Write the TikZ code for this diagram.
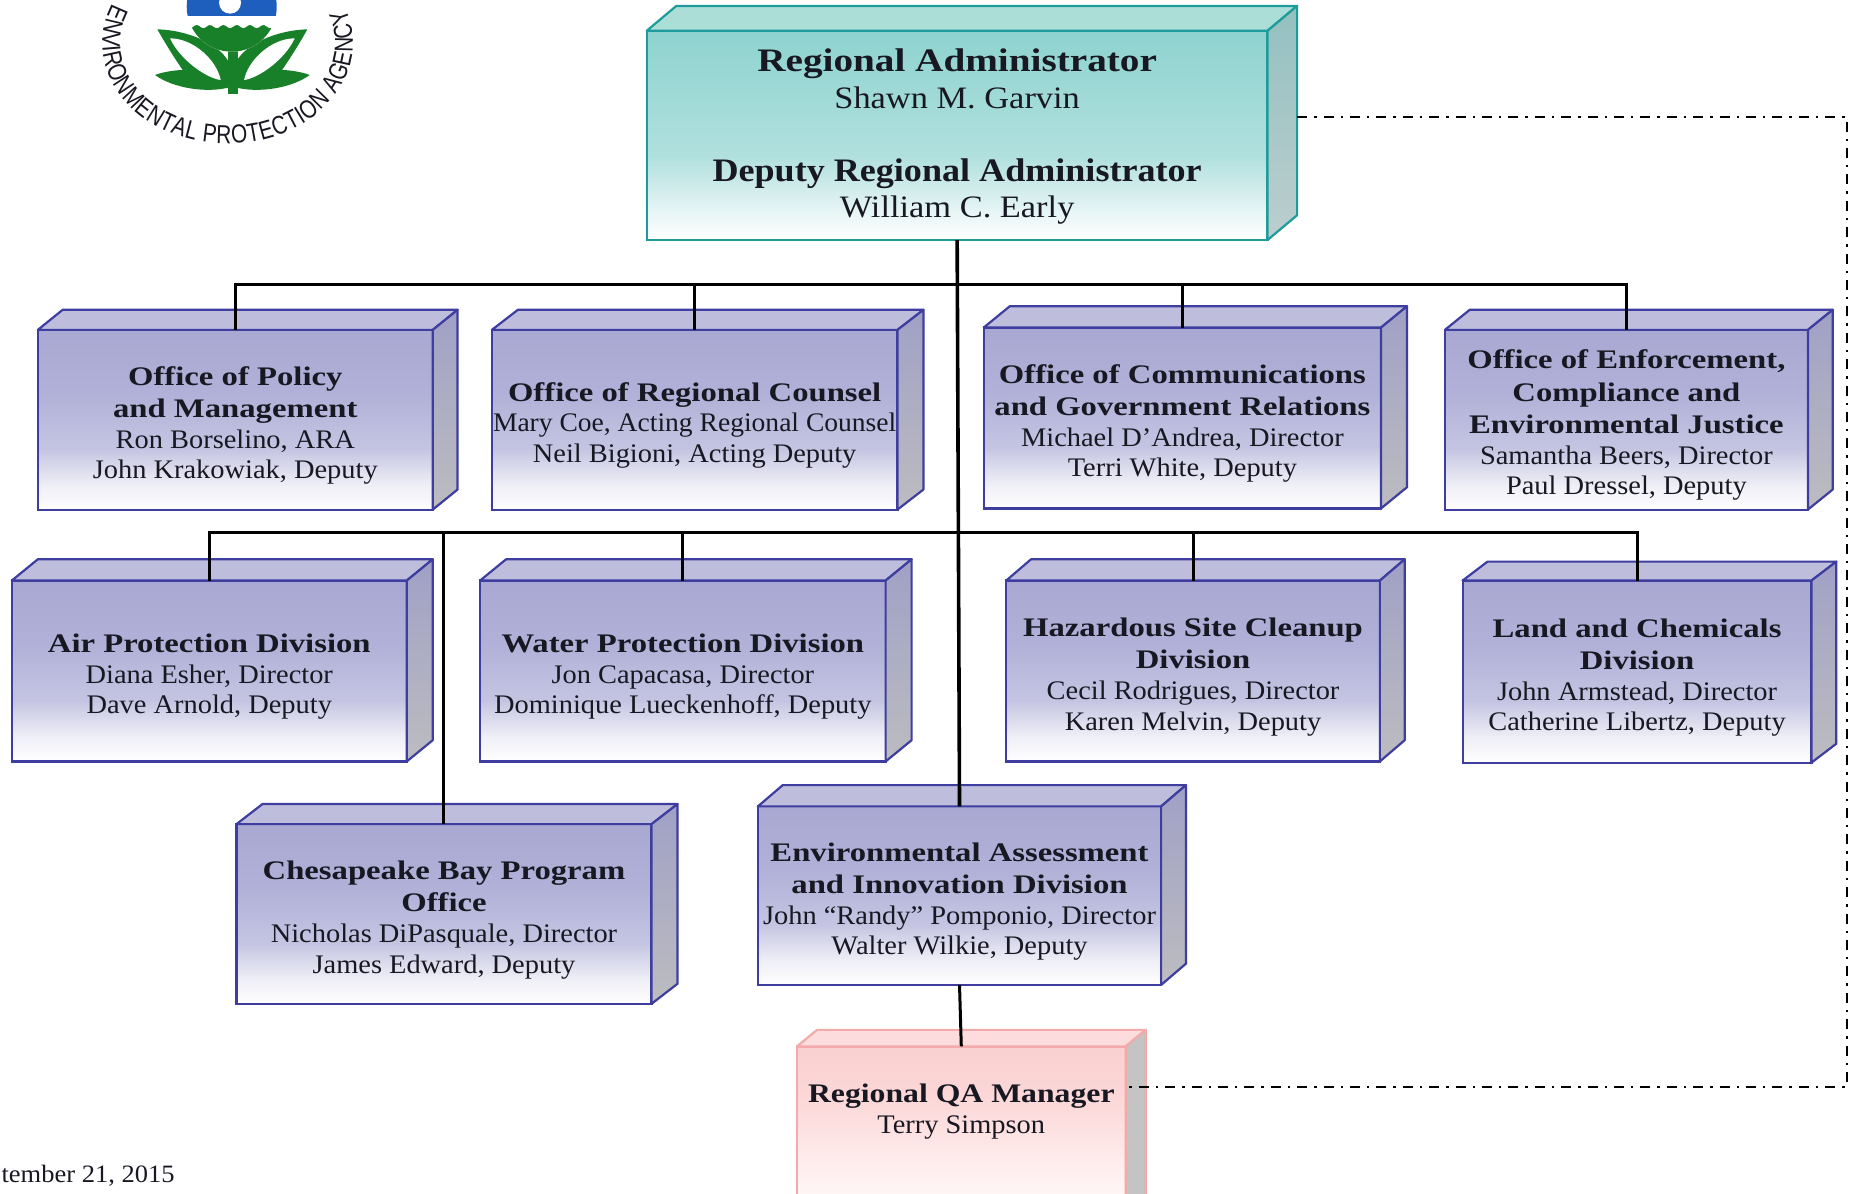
\documentclass[tikz,border=0pt]{standalone}
\usepackage{graphicx}
\usepackage{fontspec}
\setmainfont{Liberation Serif}[FakeStretch=1.06,BoldFeatures={FakeStretch=1.22}]
\newfontfamily\logofont{Liberation Sans}[FakeStretch=0.8]
\usetikzlibrary{decorations.text}
\definecolor{navyline}{RGB}{62,62,160}
\definecolor{tealline}{RGB}{30,155,155}
\definecolor{pinkline}{RGB}{242,170,170}
\definecolor{inktext}{RGB}{24,24,34}
\definecolor{epagreen}{RGB}{24,128,40}
\definecolor{epablue}{RGB}{30,95,190}
\definecolor{bluea}{RGB}{238,238,246}
\definecolor{blueb}{RGB}{196,196,226}
\definecolor{bluec}{RGB}{176,176,216}
\definecolor{blued}{RGB}{168,168,210}
\definecolor{teala}{RGB}{226,243,243}
\definecolor{tealb}{RGB}{176,224,222}
\definecolor{tealc}{RGB}{142,211,207}
\definecolor{pinka}{RGB}{255,240,240}
\definecolor{pinkb}{RGB}{252,216,216}
\definecolor{pinkc}{RGB}{250,208,208}
\pgfdeclareverticalshading{bluegrad}{100bp}{color(0bp)=(white); color(25bp)=(white); color(32bp)=(bluea); color(42bp)=(blueb); color(58bp)=(bluec); color(75bp)=(blued); color(100bp)=(blued)}
\pgfdeclareverticalshading{tealgrad}{100bp}{color(0bp)=(white); color(25bp)=(white); color(33bp)=(teala); color(45bp)=(tealb); color(75bp)=(tealc); color(100bp)=(tealc)}
\pgfdeclareverticalshading{pinkgrad}{100bp}{color(0bp)=(white); color(25bp)=(white); color(40bp)=(pinka); color(60bp)=(pinkb); color(75bp)=(pinkc); color(100bp)=(pinkc)}
\tikzset{
  face/.style={rectangle,inner sep=0pt,outer sep=0pt,align=center,text=inktext,line width=1.1pt,
    font=\fontsize{13.4}{15.3}\selectfont},
  bluefront/.style={face,draw=navyline,shading=bluegrad},
  bluetop/.style={draw=navyline,line width=1.1pt,line join=round,fill={rgb,255:red,190;green,190;blue,220}},
  blueside/.style={draw=navyline,line width=1.1pt,line join=round,top color={rgb,255:red,160;green,160;blue,198},bottom color={rgb,255:red,188;green,188;blue,192}},
  tealfront/.style={face,draw=tealline,shading=tealgrad,font=\fontsize{15.6}{18.3}\selectfont},
  tealtop/.style={draw=tealline,line width=1.1pt,line join=round,fill={rgb,255:red,172;green,222;blue,216}},
  tealside/.style={draw=tealline,line width=1.1pt,line join=round,top color={rgb,255:red,148;green,192;blue,192},bottom color={rgb,255:red,188;green,206;blue,206}},
  pinkfront/.style={face,draw=pinkline,shading=pinkgrad},
  pinktop/.style={draw=pinkline,line width=1.1pt,line join=round,fill={rgb,255:red,252;green,220;blue,220}},
  pinkside/.style={draw=pinkline,line width=1.1pt,line join=round,fill={rgb,255:red,196;green,196;blue,196}},
  link/.style={draw=black,line width=1.5pt},
  trunk/.style={draw=black,line width=1.8pt},
  dotlink/.style={draw=black,line width=1pt,dash pattern=on 5pt off 3.5pt on 1.2pt off 3.5pt},
  datetext/.style={inner sep=0pt,anchor=west,text=inktext,font=\fontsize{12.5}{14}\selectfont}
}
\newcommand\bluelift{\rule{0pt}{15.1pt}}
\newcommand\teallift{\rule{0pt}{12.6pt}}
\newcommand\pinklift{\rule{0pt}{10.6pt}}
% #1 kind, #2 name, #3 L, #4 R, #5 T, #6 B, #7 back right, #8 back top, #9 text
\newcommand\orgbox[9]{%
  \node[#1front,minimum width={(#4-#3)*0.5912pt},minimum height={(#6-#5)*0.5912pt}] (#2) at ({(#3+#4)/2},{(#5+#6)/2}) {\csname #1lift\endcsname#9};
  \draw[#1top] (#2.north west) -- ({#3+#7-#4},#8) -- (#7,#8) -- (#2.north east) -- cycle;
  \draw[#1side] (#2.north east) -- (#7,#8) -- (#7,{#6-#5+#8}) -- (#2.south east) -- cycle;
}
\newcommand\bigtitle[2]{\scalebox{#1}[1]{\bfseries\fontsize{16.4}{18.3}\selectfont #2}}
\newcommand\bigname[1]{\scalebox{1.04}[1]{#1}}
\newcommand\leafshape{%
  \fill[epagreen] (472,88) .. controls (560,90) and (660,130) .. (688,190) -- (688,262)
     .. controls (620,280) and (520,265) .. (465,225) .. controls (490,215) and (530,210) .. (548,210)
     .. controls (520,170) and (490,120) .. (472,88) -- cycle;
  \fill[white] (510,115) .. controls (580,115) and (650,180) .. (662,240) .. controls (620,235) and (540,180) .. (510,115) -- cycle;
}
\begin{document}
\begin{tikzpicture}[x=0.5912pt,y=-0.5912pt]
\path[use as bounding box,clip] (0,0) rectangle (1568,1009);
\fill[white] (0,0) rectangle (1568,1009);
% logo
\begin{scope}[x=0.1667pt,y=-0.1667pt]
  \leafshape
  \begin{scope}[shift={(1394,0)},xscale=-1]
    \leafshape
  \end{scope}
  \fill[epagreen] (685,150) rectangle (713,282);
  \begin{scope}
    \clip (695,20) circle (135);
    \fill[white] (540,-130) rectangle (850,170);
    \fill[epablue] (540,-130) rectangle (850,47);
    \fill[epagreen] plot[smooth,samples=40,domain=555:835] (\x,{80+5*sin(\x*9)}) -- (835,170) -- (555,170) -- cycle;
  \end{scope}
  \fill[white] (690,8) circle (33);
\end{scope}
\begin{scope}[shift={(192.5,36.6)},x=0.5912pt,y=0.5912pt]
\path[postaction={decorate,decoration={text along path,text align={fit to path},
   text={|\logofont\fontsize{13}{14}\selectfont\color{inktext}|ENVIRONMENTAL PROTECTION AGENCY}}}]
   (157:106 and 85) arc[start angle=157,end angle=380,x radius=106,y radius=85];
\end{scope}
% boxes
\orgbox{teal}{ra}{547}{1072}{26}{203}{1097}{5}{\bigtitle{0.98}{Regional Administrator}\\\bigname{Shawn M. Garvin}\\[18.3pt]\bigtitle{0.902}{Deputy Regional Administrator}\\\bigname{William C. Early}}
\orgbox{blue}{opm}{32}{366}{279}{431}{387}{262}{\textbf{Office of Policy}\\[0.9pt]\textbf{and Management}\\Ron Borselino, ARA\\John Krakowiak, Deputy}
\orgbox{blue}{orc}{416}{759}{279}{431}{781}{262}{\textbf{Office of Regional Counsel}\\\scalebox{0.97}[1]{Mary Coe, Acting Regional Counsel}\\Neil Bigioni, Acting Deputy}
\orgbox{blue}{ocgr}{832}{1168}{277}{430}{1190}{259}{\textbf{Office of Communications}\\[0.9pt]\textbf{and Government Relations}\\Michael D’Andrea, Director\\Terri White, Deputy}
\orgbox{blue}{oecej}{1222}{1529}{279}{431}{1550}{262}{\textbf{Office of Enforcement,}\\[0.9pt]\textbf{Compliance and}\\[0.9pt]\textbf{Environmental Justice}\\Samantha Beers, Director\\Paul Dressel, Deputy}
\orgbox{blue}{apd}{10}{344}{491}{644}{366}{473}{\textbf{Air Protection Division}\\Diana Esher, Director\\Dave Arnold, Deputy}
\orgbox{blue}{wpd}{406}{749}{491}{644}{771}{473}{\textbf{Water Protection Division}\\Jon Capacasa, Director\\Dominique Lueckenhoff, Deputy}
\orgbox{blue}{hscd}{851}{1167}{491}{644}{1188}{473}{\textbf{Hazardous Site Cleanup}\\[0.9pt]\textbf{Division}\\Cecil Rodrigues, Director\\Karen Melvin, Deputy}
\orgbox{blue}{lcd}{1237}{1532}{491}{645}{1553}{475}{\textbf{Land and Chemicals}\\[0.9pt]\textbf{Division}\\John Armstead, Director\\Catherine Libertz, Deputy}
\orgbox{blue}{cbpo}{200}{551}{697}{849}{573}{680}{\textbf{Chesapeake Bay Program}\\[0.9pt]\textbf{Office}\\Nicholas DiPasquale, Director\\James Edward, Deputy}
\orgbox{blue}{eaid}{641}{982}{682}{833}{1003}{664}{\textbf{Environmental Assessment}\\[0.9pt]\textbf{and Innovation Division}\\John “Randy” Pomponio, Director\\Walter Wilkie, Deputy}
\orgbox{pink}{qa}{674}{952}{885}{1040}{969}{871}{\scalebox{0.97}[1]{\textbf{Regional QA Manager}}\\Terry Simpson\\~\\~}
% connectors
\coordinate (busa) at (810,241);
\coordinate (busb) at (810,450);
\draw[trunk] (ra.south) -- (eaid.north);
\draw[link] (opm.north) |- (busa);
\draw[link] (orc.north) |- (busa);
\draw[link] (ocgr.north) |- (busa);
\draw[link] (oecej.north) |- (busa);
\draw[link] (apd.north) |- (busb);
\draw[link] (cbpo.north) |- (busb);
\draw[link] (wpd.north) |- (busb);
\draw[link] (hscd.north) |- (busb);
\draw[link] (lcd.north) |- (busb);
\draw[link] (eaid.south) -- (qa.north);
\coordinate (raport) at (1097,99);
\coordinate (qaport) at (952,919);
\coordinate (cornera) at (1562,99);
\coordinate (cornerb) at (1562,919);
\draw[dotlink] (raport) -- (cornera) -- (cornerb) -- (qaport);
\node[datetext] (dateline) at (1,994) {tember 21, 2015};
\end{tikzpicture}
\end{document}
